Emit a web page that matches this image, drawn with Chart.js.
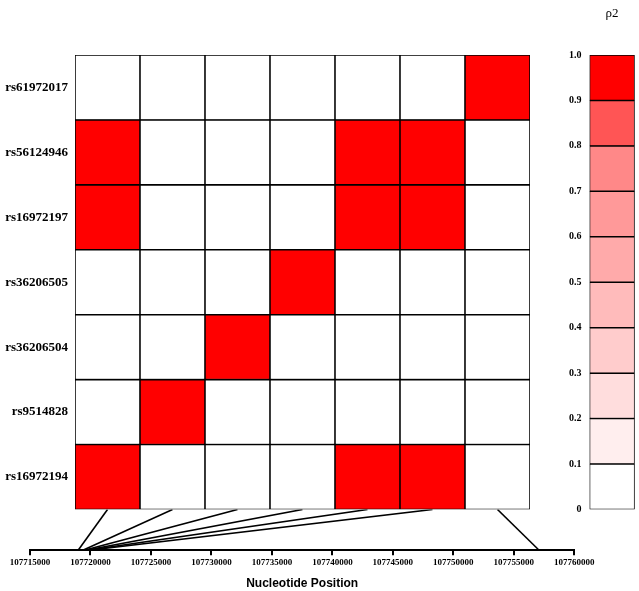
<!DOCTYPE html>
<html>
<head>
<meta charset="utf-8">
<script src="https://cdn.jsdelivr.net/npm/chart.js@4.4.1/dist/chart.umd.min.js"></script>
<style>
  body { margin: 0; background: #fff; }
  #wrap { position: relative; width: 639px; height: 591px; overflow: hidden; }
  canvas { position: absolute; }
</style>
</head>
<body>
<div id="wrap">
  <canvas id="heat" width="540" height="526" style="left:0;top:0;width:540px;height:526px"></canvas>
  <canvas id="scaleBar" width="99" height="526" style="left:540px;top:0;width:99px;height:526px"></canvas>
  <canvas id="pos" width="639" height="91" style="left:0;top:500px;width:639px;height:91px"></canvas>
</div>
<script>
// SNPs, top row to bottom row
const snps = ['rs61972017', 'rs56124946', 'rs16972197', 'rs36206505', 'rs36206504', 'rs9514828', 'rs16972194'];

// r2 values, one array per row (same order as snps), columns left to right
const ldRows = [
  [0, 0, 0, 0, 0, 0, 1],
  [1, 0, 0, 0, 1, 1, 0],
  [1, 0, 0, 0, 1, 1, 0],
  [0, 0, 0, 1, 0, 0, 0],
  [0, 0, 1, 0, 0, 0, 0],
  [0, 1, 0, 0, 0, 0, 0],
  [1, 0, 0, 0, 1, 1, 0]
];

// genomic position each column is linked to on the axis
const snpPositions = [107718980, 107719370, 107719490, 107719615, 107719740, 107719860, 107757090];

// colour key: 0-0.1, 0.1-0.2 ... 0.9-1.0
const bandValues = [0.1, 0.1, 0.1, 0.1, 0.1, 0.1, 0.1, 0.1, 0.1, 0.1];
const bandColors = ['#FFFFFF', '#FFEEEE', '#FFDDDD', '#FFCCCC', '#FFBBBB', '#FFAAAA', '#FF9999', '#FF8888', '#FF5555', '#FF0000'];

const posMin = 107715000, posMax = 107760000, posStep = 5000;

const serif = '"Liberation Serif", "Times New Roman", serif';
const sans = '"Liberation Sans", Arial, sans-serif';

function colorFor(v) {
  return bandColors[Math.min(9, Math.floor(v * 10))];
}

Chart.defaults.animation = false;
Chart.defaults.events = [];
Chart.defaults.plugins.legend.display = false;
Chart.defaults.plugins.tooltip.enabled = false;

// ---- LD grid ----
const heatSets = snps.map((name, i) => ({
  label: name,
  data: ldRows[i].map(() => 1),
  backgroundColor: ldRows[i].map(colorFor),
  borderColor: '#000',
  borderWidth: 1.1,
  borderSkipped: false,
  barPercentage: 1,
  categoryPercentage: 1
})).reverse();

const heat = new Chart(document.getElementById('heat'), {
  type: 'bar',
  data: { labels: ldRows[0].map((_, i) => 'c' + i), datasets: heatSets },
  options: {
    responsive: false,
    layout: { padding: { top: 55, right: 10, bottom: 16.5, left: 0 } },
    scales: {
      x: { display: false, stacked: true },
      y: {
        stacked: true,
        min: 0,
        max: snps.length,
        afterFit: s => { s.width = 75; },
        afterBuildTicks: s => { s.ticks = snps.map((_, i) => ({ value: i + 0.5 })); },
        grid: { display: false, drawTicks: false },
        border: { display: false },
        ticks: {
          padding: 7,
          color: '#000',
          font: { family: serif, size: 13, weight: 'bold' },
          callback: v => snps[Math.round(snps.length - 0.5 - v)]
        }
      }
    }
  }
});

// ---- colour key ----
new Chart(document.getElementById('scaleBar'), {
  type: 'bar',
  data: {
    labels: [''],
    datasets: bandValues.map((v, i) => ({
      data: [v],
      backgroundColor: bandColors[i],
      borderColor: '#000',
      borderWidth: 1.1,
      borderSkipped: false,
      barPercentage: 1,
      categoryPercentage: 1
    }))
  },
  options: {
    responsive: false,
    layout: { padding: { top: 0, right: 4.3, bottom: 16.5, left: 0 } },
    plugins: {
      title: {
        display: true,
        text: 'ρ2',
        fullSize: false,
        color: '#000',
        font: { family: serif, size: 13, weight: 'normal' },
        padding: { top: 6, bottom: 33.4 }
      }
    },
    scales: {
      x: { display: false, stacked: true },
      y: {
        stacked: true,
        min: 0,
        max: 1,
        afterFit: s => { s.width = 49.5; },
        grid: { display: false, drawTicks: false },
        border: { display: false },
        ticks: {
          stepSize: 0.1,
          padding: 8,
          color: '#000',
          font: { family: serif, size: 10, weight: 'bold' },
          callback: v => v === 0 ? '0' : v.toFixed(1)
        }
      }
    }
  }
});

// ---- position axis with links to grid columns ----
const pos = new Chart(document.getElementById('pos'), {
  type: 'scatter',
  data: {
    datasets: snpPositions.map(p => ({
      data: [{ x: p, y: 1 }, { x: p, y: 0 }],
      showLine: true,
      borderColor: '#000',
      borderWidth: 1.6,
      pointRadius: 0
    }))
  },
  options: {
    responsive: false,
    layout: { padding: { top: 9.5, right: 64.7, bottom: 0, left: 30 } },
    scales: {
      x: {
        type: 'linear',
        min: posMin,
        max: posMax,
        grid: { drawOnChartArea: false, drawTicks: true, tickLength: 5, color: '#000', lineWidth: 2 },
        border: { display: true, color: '#000', width: 2 },
        ticks: {
          stepSize: posStep,
          autoSkip: false,
          maxRotation: 0,
          padding: 2,
          color: '#000',
          font: { family: serif, size: 9, weight: 'bold' },
          callback: v => String(v)
        },
        title: {
          display: true,
          text: 'Nucleotide Position',
          color: '#000',
          font: { family: sans, size: 12, weight: 'bold' },
          padding: { top: 11, bottom: 0 }
        }
      },
      y: { display: false, min: 0, max: 1 }
    }
  }
});

// top end of each link sits under the centre of its grid column
const hx = heat.scales.x;
pos.data.datasets.forEach((ds, i) => {
  ds.data[0].x = pos.scales.x.getValueForPixel(hx.getPixelForValue(i));
});
pos.update();
</script>
</body>
</html>
